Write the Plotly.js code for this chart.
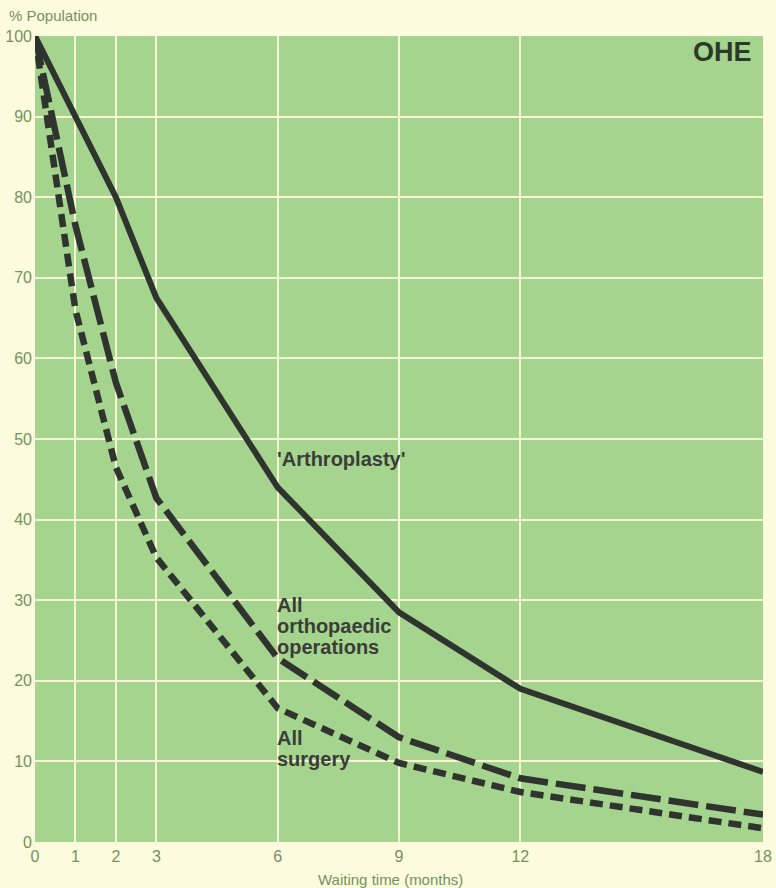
<!DOCTYPE html>
<html>
<head>
<meta charset="utf-8">
<script src="https://cdn.plot.ly/plotly-3.0.1.min.js"></script>
<style>
html,body{margin:0;padding:0;background:#fcfbdd;}
#chart{width:776px;height:888px;}
</style>
</head>
<body>
<div id="chart"></div>
<script>
// Waiting time (months)
const months = [0, 1, 2, 3, 6, 9, 12, 18];
// % population still waiting
const arthroplasty = [100, 90, 80, 67.5, 44, 28.5, 19, 8.7];
const orthopaedic  = [100, 76.5, 57, 42.7, 22.8, 13, 7.9, 3.4];
const surgery      = [100, 66, 46.5, 35.3, 16.6, 9.8, 6.2, 1.7];

const xTickVals = [0, 1, 2, 3, 6, 9, 12, 18];
const yTickVals = [0, 10, 20, 30, 40, 50, 60, 70, 80, 90, 100];

const lineColor = '#30342e';
const tickColor = '#74925d';
const FONT = 'Liberation Sans, Arial, Helvetica, sans-serif';

const traces = [
  {x: months, y: arthroplasty, mode: 'lines', name: "'Arthroplasty'",
   line: {color: lineColor, width: 6}},
  {x: months, y: orthopaedic, mode: 'lines', name: 'All orthopaedic operations',
   line: {color: lineColor, width: 6.5, dash: '30px,8px'}},
  {x: months, y: surgery, mode: 'lines', name: 'All surgery',
   line: {color: lineColor, width: 6.5, dash: '13px,7px'}}
];

function lab(text, x, y) {
  return {text: text, x: x, y: y, xref: 'x', yref: 'y', xanchor: 'left', yanchor: 'middle',
          showarrow: false, font: {family: FONT, size: 20, color: '#3a3d38', weight: 'bold'}};
}

const layout = {
  width: 776, height: 888, autosize: false,
  margin: {l: 35, r: 13, t: 36, b: 46, pad: 0},
  paper_bgcolor: '#fcfbdd',
  plot_bgcolor: '#a4d48e',
  showlegend: false,
  font: {family: FONT, size: 16, color: tickColor},
  xaxis: {
    range: [0, 18], tickmode: 'array', tickvals: xTickVals,
    showgrid: true, gridcolor: '#f6f4d2', gridwidth: 2,
    zeroline: false, showline: false, ticks: '', ticklabelstandoff: 3,
    tickfont: {family: FONT, size: 16, color: tickColor}
  },
  yaxis: {
    range: [0, 100], tickmode: 'array', tickvals: yTickVals,
    showgrid: true, gridcolor: '#f6f4d2', gridwidth: 2,
    zeroline: false, showline: false, ticks: '', ticklabelstandoff: 2,
    tickfont: {family: FONT, size: 16, color: tickColor}
  },
  annotations: [
    {text: '% Population', xref: 'paper', yref: 'paper', x: -0.038, y: 1.026,
     xanchor: 'left', yanchor: 'middle', showarrow: false,
     font: {family: FONT, size: 15, color: tickColor}},
    {text: 'Waiting time (months)', xref: 'paper', yref: 'paper', x: 0.488, y: -0.046,
     xanchor: 'center', yanchor: 'middle', showarrow: false,
     font: {family: FONT, size: 15, color: tickColor}},
    {text: '<b>OHE</b>', xref: 'paper', yref: 'paper', x: 0.944, y: 0.980,
     xanchor: 'center', yanchor: 'middle', showarrow: false,
     font: {family: FONT, size: 27, color: '#2c3a2a'}},
    lab("'Arthroplasty'", 5.93, 47.5),
    lab('All', 5.93, 29.4),
    lab('orthopaedic', 5.93, 26.8),
    lab('operations', 5.93, 24.2),
    lab('All', 5.93, 12.9),
    lab('surgery', 5.93, 10.3)
  ]
};

Plotly.newPlot('chart', traces, layout, {staticPlot: true, displayModeBar: false});
</script>
</body>
</html>
